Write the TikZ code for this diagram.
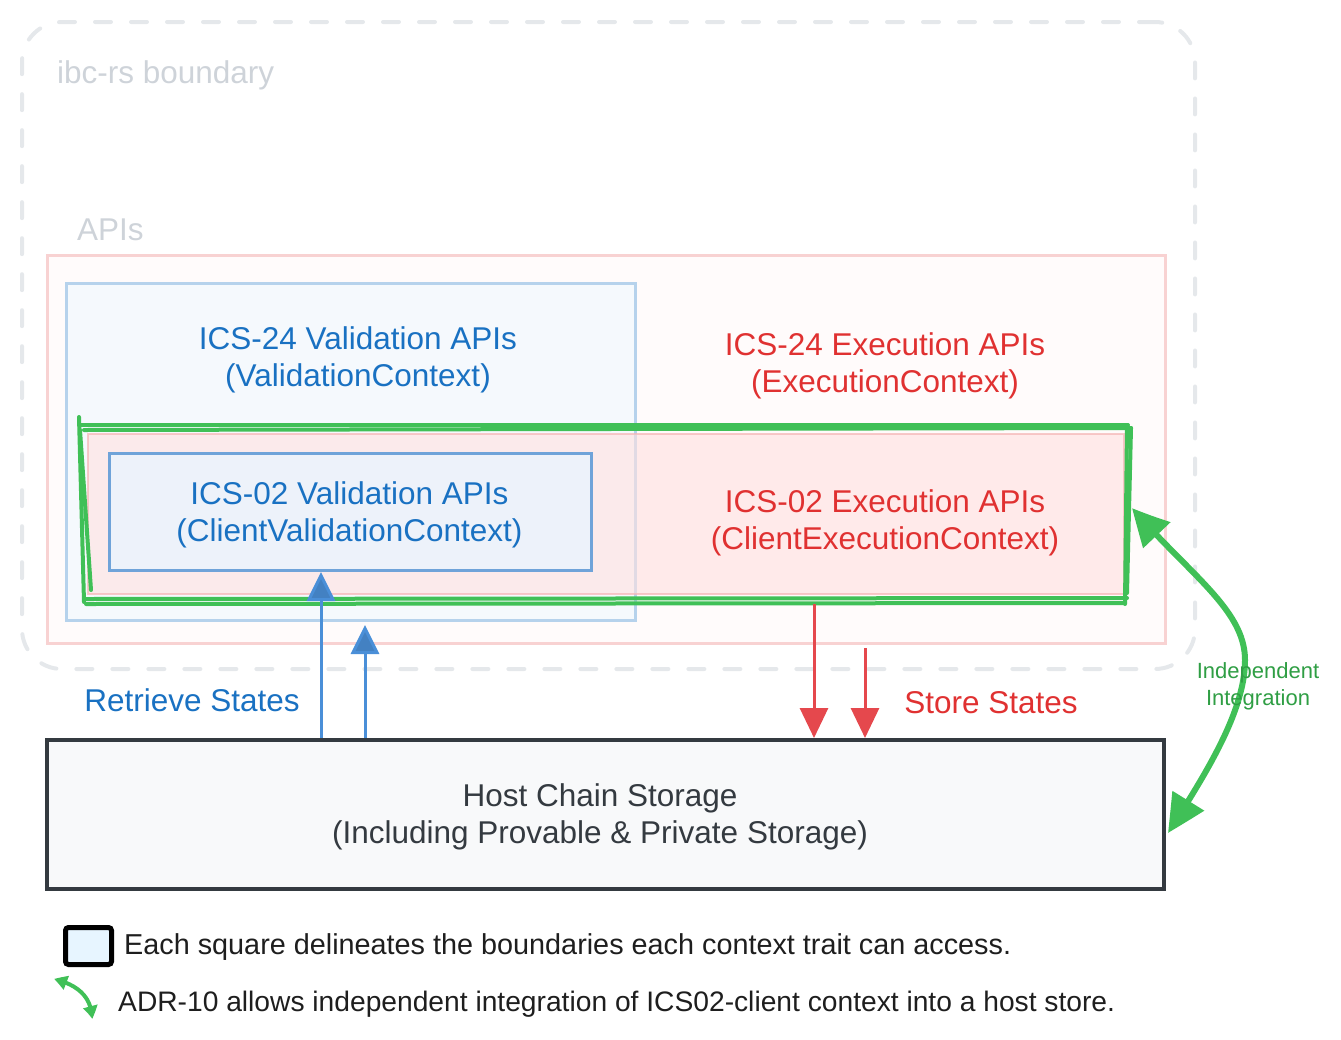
\documentclass[tikz,border=0pt]{standalone}
\usepackage{fontspec}
\setmainfont{Liberation Sans}
\usetikzlibrary{arrows.meta,bending}
\definecolor{bndline}{HTML}{E5E8EB}
\definecolor{bndtxt}{HTML}{CED3D9}
\definecolor{apisline}{HTML}{F8D2D2}
\definecolor{apisfill}{HTML}{FFFBFB}
\definecolor{valline}{HTML}{B6D2EC}
\definecolor{valfill}{HTML}{F5F9FD}
\definecolor{blueA}{HTML}{1971C2}
\definecolor{blueB}{HTML}{4A8FD8}
\definecolor{redA}{HTML}{E03131}
\definecolor{redB}{HTML}{E5484D}
\definecolor{greenA}{HTML}{40C057}
\definecolor{greenT}{HTML}{2F9E44}
\definecolor{vtwoline}{HTML}{6FA3D9}
\definecolor{vtwofill}{HTML}{EDF2FA}
\definecolor{etwofill}{HTML}{FFE0E0}
\definecolor{etwoline}{HTML}{F5B5B5}
\definecolor{hostline}{HTML}{343A40}
\definecolor{hostfill}{HTML}{F8F9FA}
\definecolor{txtdark}{HTML}{1E1E1E}
\definecolor{legfill}{HTML}{E7F5FF}
\begin{document}
\begin{tikzpicture}[x=1pt,y=-1pt,
  boxnode/.style={inner sep=0pt, anchor=north west},
  bigtext/.style={font=\fontsize{31.5}{37}\selectfont, align=center},
  legtext/.style={anchor=west, text=txtdark, inner sep=0pt},
  sketch/.style={draw=greenA, line width=4pt, line cap=round},
  bluearrow/.style={draw=blueB, line width=3pt, -{Triangle[length=29pt,width=28pt,fill=blueB!90!black]}},
  redarrow/.style={draw=redB, line width=3pt, -{Triangle[length=30pt,width=28pt,fill=redB]}},
  greenarrow/.style={draw=greenA, line width=6pt, {Triangle[length=38pt,width=36pt,bend]}-{Triangle[length=38pt,width=36pt,bend]}}
]
\useasboundingbox (0,0) rectangle (1341,1039);

% ibc-rs boundary
\node[boxnode, draw=bndline, line width=4pt, dash pattern=on 16pt off 20pt, line cap=round,
      rounded corners=40pt, minimum width=1173pt, minimum height=647pt] (bnd) at (20,20) {};
\node[anchor=base west, inner sep=0pt, text=bndtxt, font=\fontsize{31.5}{37}\selectfont] (bndlabel) at (57,83) {ibc-rs boundary};
\node[anchor=base west, inner sep=0pt, text=bndtxt, font=\fontsize{31.5}{37}\selectfont] (apislabel) at (77,240) {APIs};

% APIs box
\node[boxnode, draw=apisline, fill=apisfill, line width=3pt, minimum width=1118pt, minimum height=388pt] (apis) at (46,254) {};
% ICS-24 validation box
\node[boxnode, draw=valline, fill=valfill, line width=3pt, minimum width=569pt, minimum height=337pt] (valctx) at (65,282) {};
% ICS-02 execution (inner pink)
\node[boxnode, draw=etwoline, fill=etwofill, line width=2pt, fill opacity=0.6, draw opacity=0.7, minimum width=1036pt, minimum height=160pt] (exec02) at (87,433) {};
% ICS-02 validation
\node[boxnode, draw=vtwoline, fill=vtwofill, line width=3pt, minimum width=482pt, minimum height=117pt] (val02) at (108,452) {};

% texts
\node[bigtext, text=blueA] (val24txt) at (358,359.5) {ICS-24 Validation APIs\\(ValidationContext)};
\node[bigtext, text=redA] (exec24txt) at (885,365.5) {ICS-24 Execution APIs\\(ExecutionContext)};
\node[bigtext, text=blueA] (val02txt) at (349.5,514.5) {ICS-02 Validation APIs\\(ClientValidationContext)};
\node[bigtext, text=redA] (exec02txt) at (885,523) {ICS-02 Execution APIs\\(ClientExecutionContext)};

% green sketch rectangle
\draw[sketch] (79,417) -- (84,602);
\draw[sketch] (80,430) -- (91,590);
\draw[sketch] (79,425) -- (1128,425);
\draw[sketch] (84,430) -- (1131,428);
\draw[sketch] (1127,425) -- (1125,604);
\draw[sketch] (1131,428) -- (1127,593);
\draw[sketch] (84,599) -- (1127,598);
\draw[sketch] (86,604) -- (1125,603);

% Host chain storage
\node[boxnode, draw=hostline, fill=hostfill, line width=3.5pt, minimum width=1117pt, minimum height=149pt] (host) at (45,738) {};
\node[bigtext, text=hostline] (hosttxt) at (600,817) {Host Chain Storage\\(Including Provable \& Private Storage)};

% retrieve arrows
\draw[bluearrow] (host.north -| 321,0) -- (val02.south -| 321,0);
\draw[bluearrow] (host.north -| 365,0) -- ([yshift=-3pt]valctx.south -| 365,0);
\node[bigtext, text=blueA] (retr) at (192,700) {Retrieve States};

% store arrows
\draw[redarrow] ([yshift=-9pt]exec02.south -| 814,0) -- (host.north -| 814,0);
\draw[redarrow] ([yshift=-3pt]apis.south -| 865,0) -- (host.north -| 865,0);
\node[bigtext, text=redA] (store) at (991,703) {Store States};

% independent integration arrow
\coordinate (gtop) at (1132,508);
\coordinate (gbot) at (1168,833);
\draw[greenarrow] (gtop) .. controls (1190,575) and (1245,610) .. (1245,660) .. controls (1245,712) and (1205,775) .. (gbot);
\node[font=\fontsize{22}{27}\selectfont, align=center, text=greenT] (indep) at (1258,686) {Independent\\Integration};

% legend
\node[boxnode, draw=black, fill=legfill, line width=5pt, rounded corners=3pt, minimum width=46pt, minimum height=37pt] (legsq) at (63,925) {};
\node[legtext, font=\fontsize{28.8}{32}\selectfont] (leg1) at (124,947) {Each square delineates the boundaries each context trait can access.};
\coordinate (la) at (54,979);
\coordinate (lb) at (92,1019);
\draw[draw=greenA, line width=4pt, {Triangle[length=13pt,width=14pt,bend]}-{Triangle[length=13pt,width=14pt,bend]}] (la) .. controls (75,984) and (92,995) .. (lb);
\node[legtext, font=\fontsize{28.2}{32}\selectfont] (leg2) at (118,1004) {ADR-10 allows independent integration of ICS02-client context into a host store.};
\end{tikzpicture}
\end{document}
